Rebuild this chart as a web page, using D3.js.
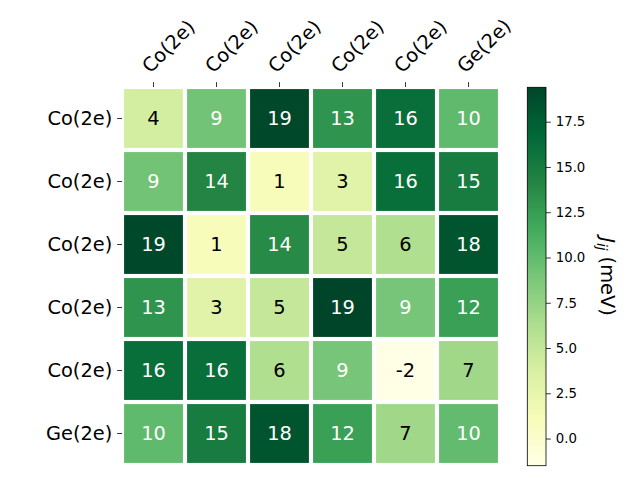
<!DOCTYPE html>
<html>
<head>
<meta charset="utf-8">
<script src="https://cdn.jsdelivr.net/npm/d3@7"></script>
<style>
  html, body { margin: 0; padding: 0; background: #fff; }
  svg { display: block; font-family: "DejaVu Sans", sans-serif; }
</style>
</head>
<body>
<svg id="chart" width="640" height="480"></svg>
<script>
// ---- data ----
const colLabels = ["Co(2e)", "Co(2e)", "Co(2e)", "Co(2e)", "Co(2e)", "Ge(2e)"];
const rowLabels = ["Co(2e)", "Co(2e)", "Co(2e)", "Co(2e)", "Co(2e)", "Ge(2e)"];
const row0 = [4.0, 9.2, 19.2, 13.1, 16.2, 10.1];
const row1 = [9.2, 14.2, 1.0, 3.0, 16.1, 15.0];
const row2 = [19.2, 1.0, 13.8, 5.0, 6.1, 18.2];
const row3 = [13.1, 3.0, 5.0, 19.4, 9.0, 12.3];
const row4 = [16.2, 16.1, 6.1, 9.0, -1.5, 7.0];
const row5 = [10.1, 15.0, 18.2, 12.3, 7.0, 10.0];
const matrix = [row0, row1, row2, row3, row4, row5];
const cbarTicks = [0.0, 2.5, 5.0, 7.5, 10.0, 12.5, 15.0, 17.5];
const cbarLabel = "J";
const cbarSub = "ij";
const cbarUnit = " (meV)";
const ylgn = ["#ffffe5","#f7fcb9","#d9f0a3","#addd8e","#78c679","#41ab5d","#238443","#006837","#004529"];

// ---- layout ----
const svg = d3.select("#chart");
const plotLeft = 122, plotTop = 87, plotSize = 378;
const cb = {x: 527.3, w: 18.7, y0: 87.3, y1: 465.7};
const tickLen = 4.86, tickPad = 4.86;

const all = matrix.flat();
const vmin = d3.min(all), vmax = d3.max(all);
const color = d3.scaleLinear()
  .domain(d3.range(ylgn.length).map(i => vmin + (vmax - vmin) * i / (ylgn.length - 1)))
  .range(ylgn)
  .interpolate(d3.interpolateRgb);
const threshold = (vmin + vmax) / 2;

const x = d3.scaleBand().domain(d3.range(colLabels.length)).range([plotLeft, plotLeft + plotSize]);
const y = d3.scaleBand().domain(d3.range(rowLabels.length)).range([plotTop, plotTop + plotSize]);
const gap = 2.08;

const cells = [];
matrix.forEach((r, i) => r.forEach((v, j) => cells.push({i, j, v})));

svg.append("g").selectAll("rect").data(cells).join("rect")
  .attr("x", d => x(d.j) + gap)
  .attr("y", d => y(d.i) + gap)
  .attr("width", x.bandwidth() - 2 * gap)
  .attr("height", y.bandwidth() - 2 * gap)
  .attr("fill", d => color(d.v));

svg.append("g").selectAll("text").data(cells).join("text")
  .attr("x", d => x(d.j) + x.bandwidth() / 2)
  .attr("y", d => y(d.i) + y.bandwidth() / 2)
  .attr("text-anchor", "middle")
  .attr("dy", "0.36em")
  .attr("font-size", "19.4px")
  .attr("fill", d => d.v > threshold ? "#fff" : "#000")
  .text(d => d.v.toFixed(0));

// top axis
const xAxis = d3.axisTop(x).tickSize(tickLen).tickPadding(tickPad).tickFormat(i => colLabels[i]);
const gx = svg.append("g").attr("transform", `translate(0,${plotTop})`).call(xAxis);
gx.select(".domain").remove();
gx.selectAll(".tick line").attr("stroke", "#000").attr("stroke-width", 0.8);
gx.selectAll(".tick text")
  .attr("font-size", "19.4px").attr("font-family", "DejaVu Sans").attr("fill", "#000")
  .attr("text-anchor", "start")
  .attr("x", 0).attr("y", 0).attr("dy", null)
  .attr("transform", `translate(0,${-(tickLen + tickPad)}) rotate(-45) translate(0,-4.6)`);

// left axis
const yAxis = d3.axisLeft(y).tickSize(tickLen).tickPadding(tickPad).tickFormat(i => rowLabels[i]);
const gy = svg.append("g").attr("transform", `translate(${plotLeft},0)`).call(yAxis);
gy.select(".domain").remove();
gy.selectAll(".tick line").attr("stroke", "#000").attr("stroke-width", 0.8);
gy.selectAll(".tick text")
  .attr("font-size", "19.4px").attr("font-family", "DejaVu Sans").attr("fill", "#000");

// colorbar
const defs = svg.append("defs");
const grad = defs.append("linearGradient").attr("id", "cbgrad")
  .attr("x1", 0).attr("y1", 1).attr("x2", 0).attr("y2", 0);
ylgn.forEach((c, i) => grad.append("stop").attr("offset", i / (ylgn.length - 1)).attr("stop-color", c));
svg.append("rect").attr("x", cb.x).attr("y", cb.y0).attr("width", cb.w).attr("height", cb.y1 - cb.y0)
  .attr("fill", "url(#cbgrad)").attr("stroke", "#000").attr("stroke-width", 0.8);
const cy = d3.scaleLinear().domain([vmin, vmax]).range([cb.y1, cb.y0]);
const cAxis = d3.axisRight(cy).tickValues(cbarTicks).tickSize(tickLen).tickPadding(tickPad).tickFormat(d => d.toFixed(1));
const gc = svg.append("g").attr("transform", `translate(${cb.x + cb.w},0)`).call(cAxis);
gc.select(".domain").remove();
gc.selectAll(".tick line").attr("stroke", "#000").attr("stroke-width", 0.8);
gc.selectAll(".tick text").attr("font-size", "13.3px").attr("font-family", "DejaVu Sans").attr("fill", "#000");

// colorbar label
const lab = svg.append("text")
  .attr("transform", `translate(600.5,${(cb.y0 + cb.y1) / 2}) rotate(90)`)
  .attr("text-anchor", "middle")
  .attr("font-size", "19.4px").attr("fill", "#000");
lab.append("tspan").attr("font-style", "italic").text(cbarLabel);
lab.append("tspan").attr("font-style", "italic").attr("font-size", "13.5px").attr("dy", "4").text(cbarSub);
lab.append("tspan").attr("dy", "-4").text(cbarUnit);
</script>
</body>
</html>
